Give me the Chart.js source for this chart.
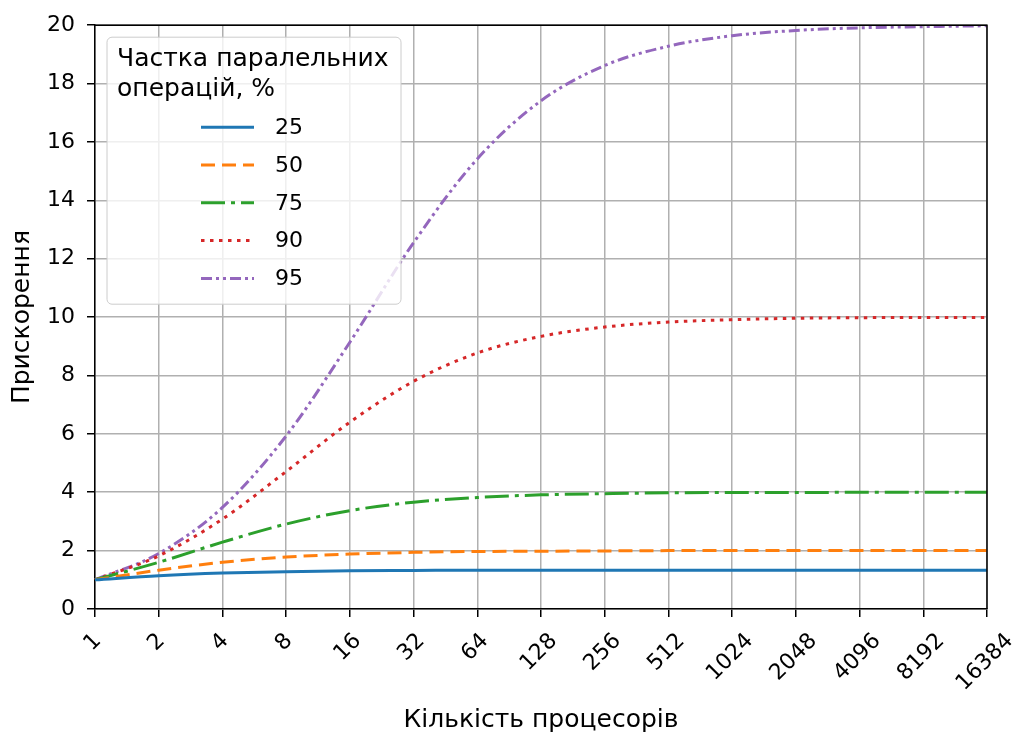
<!DOCTYPE html>
<html>
<head>
<meta charset="utf-8">
<script src="https://cdn.jsdelivr.net/npm/chart.js@4/dist/chart.umd.min.js"></script>
<style>
  body { margin: 0; background: #fff; }
</style>
</head>
<body>
<canvas id="chart" width="1017" height="735"></canvas>
<script>
    // Дані графіка
    const processors = ['1', '2', '4', '8', '16', '32', '64', '128', '256', '512', '1024', '2048', '4096', '8192', '16384'];
    const share25 = [1, 1.14, 1.23, 1.28, 1.31, 1.32, 1.33, 1.33, 1.33, 1.33, 1.33, 1.33, 1.33, 1.33, 1.33];
    const share50 = [1, 1.33, 1.6, 1.78, 1.88, 1.94, 1.97, 1.98, 1.99, 2.0, 2.0, 2.0, 2.0, 2.0, 2.0];
    const share75 = [1, 1.6, 2.29, 2.91, 3.37, 3.66, 3.82, 3.91, 3.95, 3.98, 3.99, 3.99, 4.0, 4.0, 4.0];
    const share90 = [1, 1.82, 3.08, 4.71, 6.4, 7.8, 8.77, 9.34, 9.66, 9.83, 9.91, 9.96, 9.98, 9.99, 9.99];
    const share95 = [1, 1.9, 3.48, 5.93, 9.14, 12.55, 15.42, 17.41, 18.62, 19.28, 19.64, 19.82, 19.91, 19.95, 19.98];
    const seriesNames = ['25', '50', '75', '90', '95'];
    const yTicks = [0, 2, 4, 6, 8, 10, 12, 14, 16, 18, 20];
    const legendTitle = ['Частка паралельних', 'операцій, %'];

    const FONT = 'DejaVu Sans';

    function makeLine(label, values, color, dash) {
        return {
            label: label,
            data: values,
            borderColor: color,
            backgroundColor: color,
            borderWidth: 3,
            borderDash: dash,
            pointRadius: 0,
            cubicInterpolationMode: 'monotone',
            fill: false
        };
    }

    // Вісь X: підписи під кутом 45°, центровані під рисками
    const xLabelsPlugin = {
        id: 'xLabels',
        afterDraw(chart) {
            const ctx = chart.ctx;
            const scale = chart.scales.x;
            ctx.save();
            ctx.font = '22px "' + FONT + '"';
            ctx.fillStyle = '#000';
            ctx.textAlign = 'center';
            ctx.textBaseline = 'middle';
            processors.forEach((label, i) => {
                const x = scale.getPixelForTick(i);
                const w = ctx.measureText(label).width;
                const half = (w + 16) / (2 * Math.SQRT2);
                ctx.save();
                ctx.translate(x - 2, chart.chartArea.bottom + 23 + half);
                ctx.rotate(-Math.PI / 4);
                ctx.fillText(label, 0, 0);
                ctx.restore();
            });
            ctx.restore();
        }
    };

    // Рамка та легенда в стилі matplotlib
    const frameLegendPlugin = {
        id: 'frameLegend',
        afterDatasetsDraw(chart) {
            const ctx = chart.ctx;
            const area = chart.chartArea;
            ctx.save();
            ctx.strokeStyle = '#000';
            ctx.lineWidth = 1.5;
            ctx.beginPath();
            ctx.moveTo(area.left, area.top);
            ctx.lineTo(area.right, area.top);
            ctx.lineTo(area.right, area.bottom);
            ctx.stroke();

            const bx = area.left + 12;
            const by = area.top + 12;
            ctx.beginPath();
            ctx.roundRect(bx, by, 294, 267, 5);
            ctx.fillStyle = 'rgba(255,255,255,0.8)';
            ctx.fill();
            ctx.strokeStyle = '#cccccc';
            ctx.lineWidth = 1;
            ctx.stroke();

            ctx.fillStyle = '#000';
            ctx.textBaseline = 'middle';
            ctx.textAlign = 'left';
            ctx.font = '25px "' + FONT + '"';
            legendTitle.forEach((line, i) => {
                ctx.fillText(line, bx + 10, by + 22 + i * 30);
            });

            ctx.font = '22px "' + FONT + '"';
            chart.data.datasets.forEach((ds, i) => {
                const y = by + 90 + i * 37.8;
                ctx.save();
                ctx.strokeStyle = ds.borderColor;
                ctx.lineWidth = ds.borderWidth;
                ctx.setLineDash(ds.borderDash || []);
                ctx.beginPath();
                ctx.moveTo(bx + 94, y);
                ctx.lineTo(bx + 147, y);
                ctx.stroke();
                ctx.restore();
                ctx.fillText(ds.label, bx + 168, y + 1);
            });
            ctx.restore();
        }
    };

    const chart = document.getElementById('chart');

    new Chart(chart, {
        type: 'line',
        data: {
            labels: processors,
            datasets: [
                makeLine(seriesNames[0], share25, '#1f77b4', []),
                makeLine(seriesNames[1], share50, '#ff7f0e', [14, 7]),
                makeLine(seriesNames[2], share75, '#2ca02c', [24, 6, 4, 6]),
                makeLine(seriesNames[3], share90, '#d62728', [3.5, 5.5]),
                makeLine(seriesNames[4], share95, '#9467bd', [11, 4, 3, 4, 3, 4])
            ]
        },
        options: {
            responsive: false,
            animation: false,
            layout: {
                padding: { top: 22, right: 30, left: 0, bottom: 0 }
            },
            plugins: {
                legend: { display: false },
                tooltip: { enabled: false }
            },
            scales: {
                x: {
                    type: 'category',
                    offset: false,
                    grid: {
                        color: '#b0b0b0',
                        lineWidth: 1.5,
                        tickColor: '#000',
                        tickLength: 8,
                        tickWidth: 1.5
                    },
                    border: { color: '#000', width: 1.5 },
                    ticks: { display: false, autoSkip: false },
                    title: {
                        display: true,
                        text: 'Кількість процесорів',
                        color: '#000',
                        font: { family: FONT, size: 25 },
                        padding: { top: 0, bottom: 0 }
                    },
                    afterFit(scale) { scale.height = 126; }
                },
                y: {
                    min: 0,
                    max: 20,
                    afterBuildTicks(scale) {
                        scale.ticks = yTicks.map(v => ({ value: v }));
                    },
                    grid: {
                        color: '#b0b0b0',
                        lineWidth: 1.5,
                        tickColor: '#000',
                        tickLength: 8,
                        tickWidth: 1.5
                    },
                    border: { color: '#000', width: 1.5 },
                    ticks: {
                        color: '#000',
                        padding: 12,
                        font: { family: FONT, size: 22 }
                    },
                    title: {
                        display: true,
                        text: 'Прискорення',
                        color: '#000',
                        font: { family: FONT, size: 25 },
                        padding: { top: 7, bottom: 0 }
                    },
                    afterFit(scale) { scale.width = 95; }
                }
            }
        },
        plugins: [xLabelsPlugin, frameLegendPlugin]
    });
</script>
</body>
</html>
